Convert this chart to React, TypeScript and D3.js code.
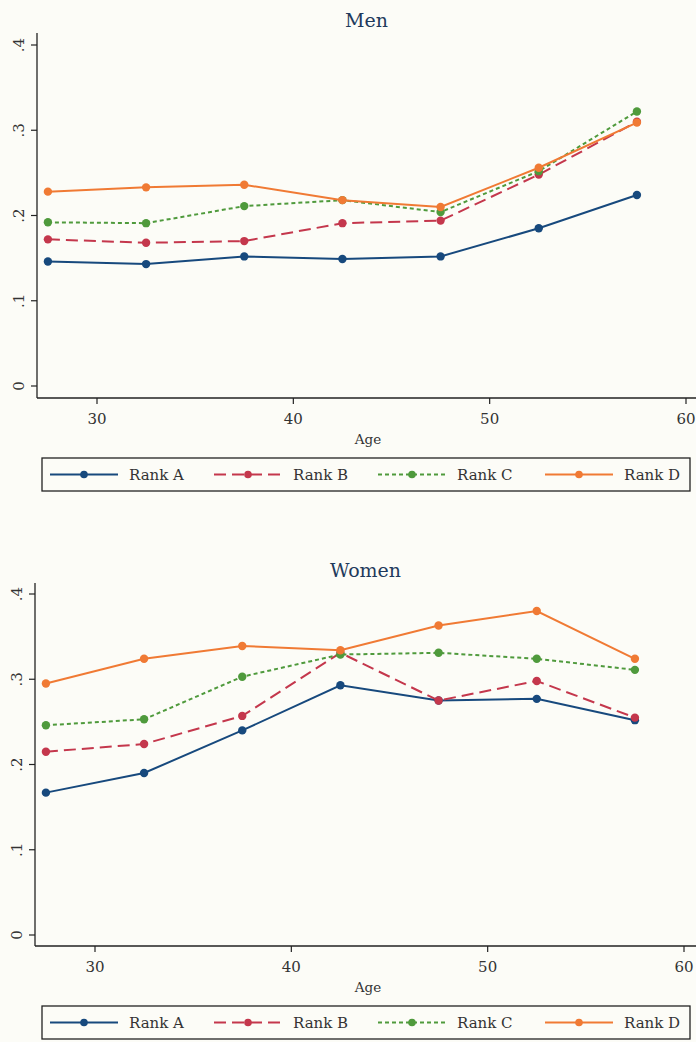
import * as d3 from "d3";

const ages = [27.5, 32.5, 37.5, 42.5, 47.5, 52.5, 57.5];
const seriesNames = ["Rank A", "Rank B", "Rank C", "Rank D"];
const colors = ["#17497d", "#c4374c", "#4f9a3c", "#f07a34"];
const dashes = ["none", "12 6", "4 3", "none"];

const menA = [0.146, 0.143, 0.152, 0.149, 0.152, 0.185, 0.224];
const menB = [0.172, 0.168, 0.170, 0.191, 0.194, 0.248, 0.310];
const menC = [0.192, 0.191, 0.211, 0.218, 0.204, 0.252, 0.322];
const menD = [0.228, 0.233, 0.236, 0.218, 0.210, 0.256, 0.309];

const womenA = [0.167, 0.190, 0.240, 0.293, 0.275, 0.277, 0.252];
const womenB = [0.215, 0.224, 0.257, 0.331, 0.275, 0.298, 0.255];
const womenC = [0.246, 0.253, 0.303, 0.329, 0.331, 0.324, 0.311];
const womenD = [0.295, 0.324, 0.339, 0.334, 0.363, 0.380, 0.324];

const xTicks = [30, 40, 50, 60];
const yTicks = [0, 0.1, 0.2, 0.3, 0.4];
const yTickLabels = ["0", ".1", ".2", ".3", ".4"];

const font = "'DejaVu Serif', 'Liberation Serif', serif";

type PanelProps = {
  title: string;
  data: number[][];
  left: number;
  top: number;
  axisY: number;
  y0: number;
  y4: number;
  x30: number;
  x60: number;
};

const Panel = ({ title, data, left, top, axisY, y0, y4, x30, x60 }: PanelProps) => {
  const x = d3.scaleLinear().domain([30, 60]).range([x30, x60]);
  const y = d3.scaleLinear().domain([0, 0.4]).range([y0, y4]);
  const line = d3
    .line<number>()
    .x((_, i) => x(ages[i]))
    .y((d) => y(d));
  const right = 696;
  const center = (left + right) / 2;

  // legend layout
  const legTop = axisY + 60;
  const legH = 33;
  const itemX = [50, 214, 378, 545];

  return (
    <g>
      <text x={center} y={top - 6} textAnchor="middle" fontFamily={font} fontSize={19} fill="#1f3a5c">
        {title}
      </text>
      {/* axes */}
      <line x1={left} x2={left} y1={top} y2={axisY} stroke="#222" strokeWidth={1.3} />
      <line x1={left} x2={right} y1={axisY} y2={axisY} stroke="#222" strokeWidth={1.3} />
      {yTicks.map((t, i) => (
        <g key={t}>
          <line x1={left - 6} x2={left} y1={y(t)} y2={y(t)} stroke="#222" strokeWidth={1.2} />
          <text
            transform={`translate(${left - 13},${y(t)}) rotate(-90)`}
            textAnchor="middle"
            fontFamily={font}
            fontSize={15}
            fill="#333"
          >
            {yTickLabels[i]}
          </text>
        </g>
      ))}
      {xTicks.map((t) => (
        <g key={t}>
          <line x1={x(t)} x2={x(t)} y1={axisY} y2={axisY + 6} stroke="#222" strokeWidth={1.2} />
          <text x={x(t)} y={axisY + 26} textAnchor="middle" fontFamily={font} fontSize={15} fill="#333">
            {t}
          </text>
        </g>
      ))}
      <text x={368} y={axisY + 46} textAnchor="middle" fontFamily={font} fontSize={13.5} fill="#333">
        Age
      </text>
      {/* series */}
      {data.map((vals, s) => (
        <g key={s}>
          <path
            d={line(vals) || ""}
            fill="none"
            stroke={colors[s]}
            strokeWidth={2}
            strokeDasharray={dashes[s]}
          />
          {vals.map((v, i) => (
            <circle key={i} cx={x(ages[i])} cy={y(v)} r={4.2} fill={colors[s]} />
          ))}
        </g>
      ))}
      {/* legend */}
      <rect x={42} y={legTop} width={648} height={legH} fill="none" stroke="#222" strokeWidth={1.3} />
      {seriesNames.map((n, s) => (
        <g key={n}>
          <line
            x1={itemX[s]}
            x2={itemX[s] + 68}
            y1={legTop + legH / 2}
            y2={legTop + legH / 2}
            stroke={colors[s]}
            strokeWidth={2}
            strokeDasharray={dashes[s]}
          />
          <circle cx={itemX[s] + 34} cy={legTop + legH / 2} r={3.8} fill={colors[s]} />
          <text
            x={itemX[s] + 79}
            y={legTop + legH / 2 + 5}
            fontFamily={font}
            fontSize={15}
            fill="#333"
          >
            {n}
          </text>
        </g>
      ))}
    </g>
  );
};

export default function App() {
  return (
    <svg
      width={696}
      height={1042}
      style={{ position: "absolute", left: 0, top: 0, background: "#fcfcf7" }}
    >
      <Panel
        title="Men"
        data={[menA, menB, menC, menD]}
        left={37}
        top={33}
        axisY={398}
        y0={386}
        y4={45}
        x30={97}
        x60={686}
      />
      <Panel
        title="Women"
        data={[womenA, womenB, womenC, womenD]}
        left={35}
        top={583}
        axisY={946}
        y0={935}
        y4={594}
        x30={95}
        x60={684}
      />
    </svg>
  );
}
